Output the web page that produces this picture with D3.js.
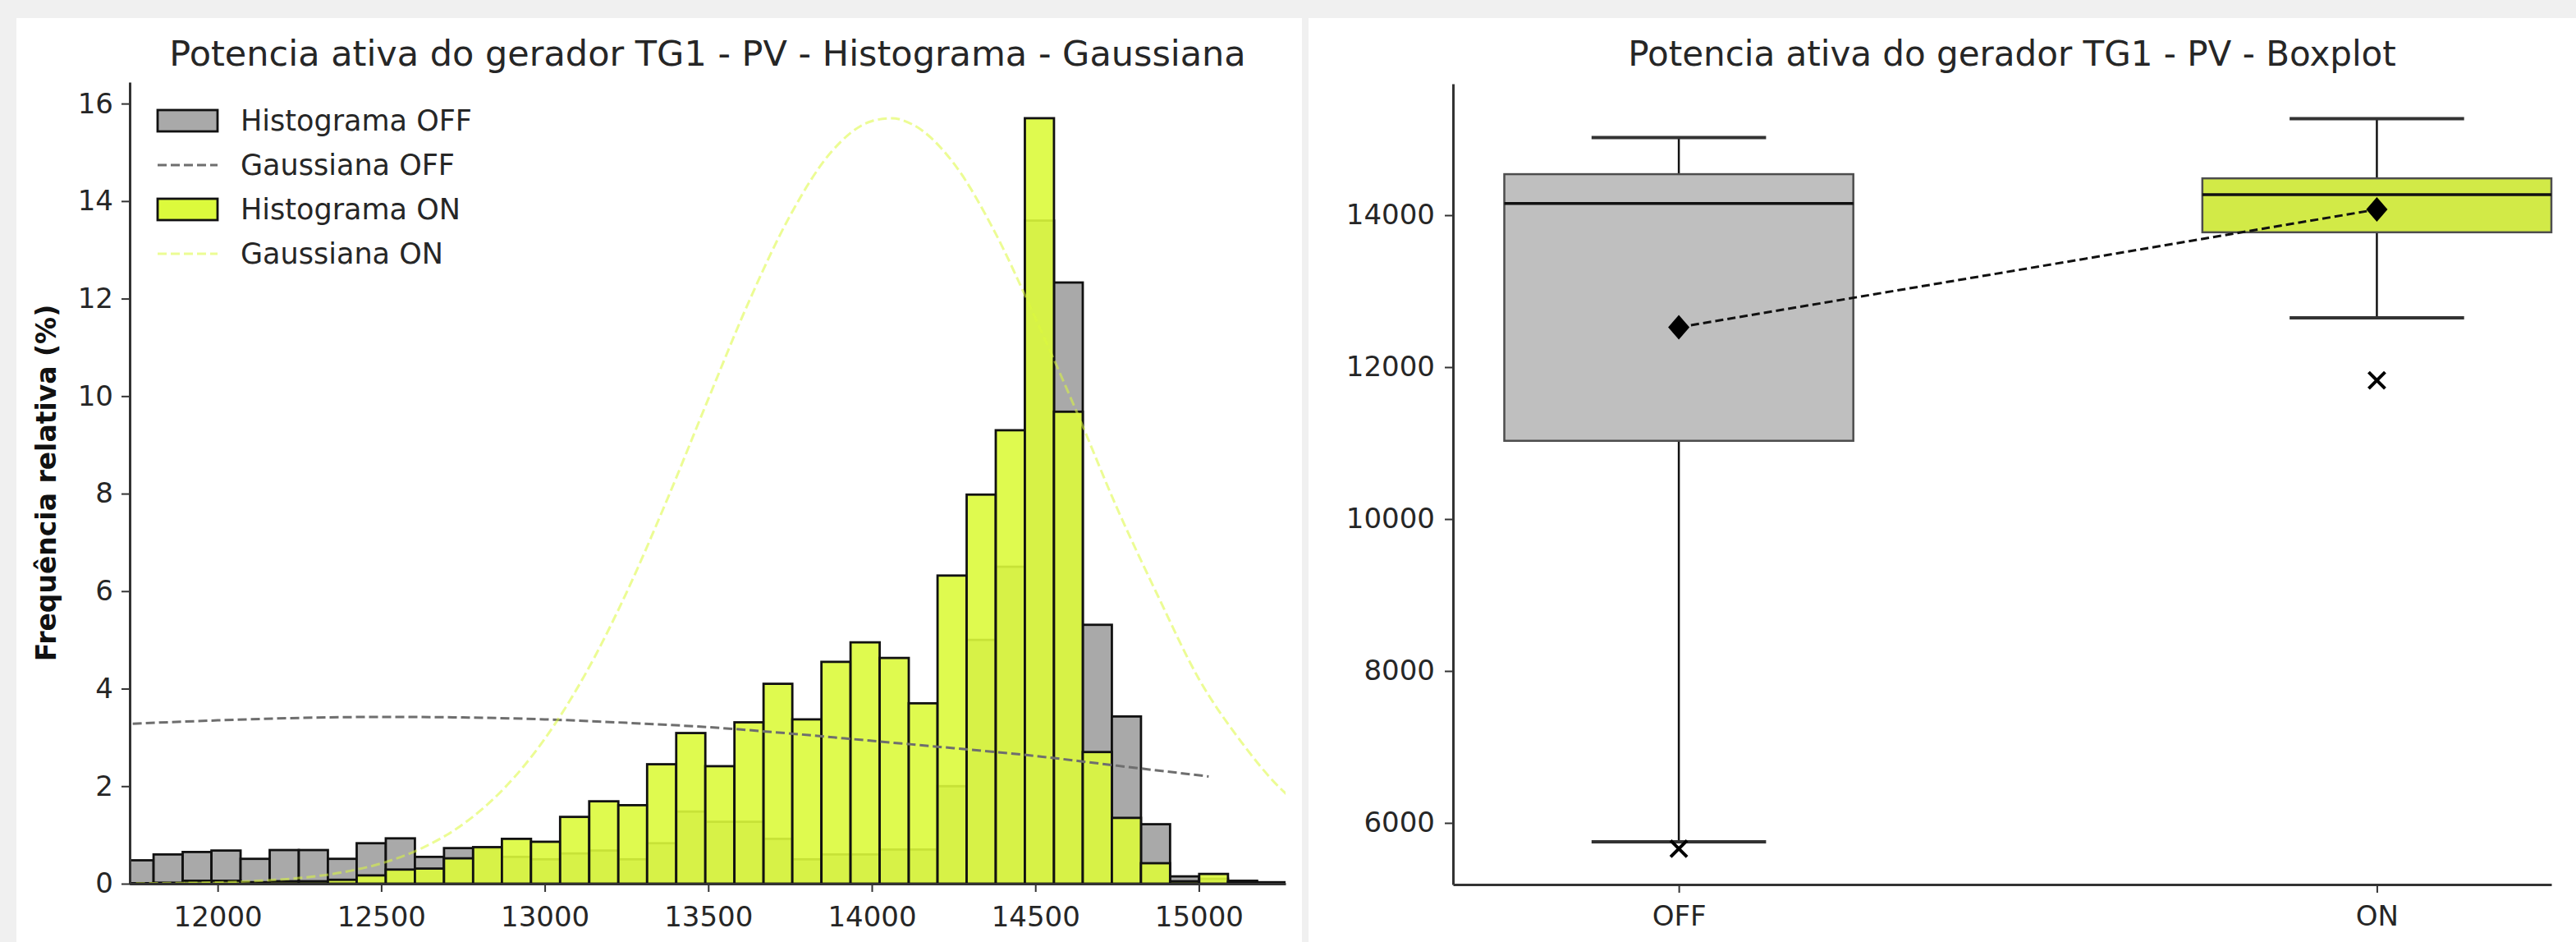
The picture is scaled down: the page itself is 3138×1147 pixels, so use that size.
<!DOCTYPE html>
<html>
<head>
<meta charset="utf-8">
<script src="https://cdn.jsdelivr.net/npm/d3@7"></script>
<style>
  body { margin: 0; background: #f0f0f0; }
  svg { display: block; font-family: "DejaVu Sans", sans-serif; }
</style>
</head>
<body>
<div id="chart"></div>
<script>
// bin edges of the histograms (kW)
const binEdges = [11715, 11804, 11893, 11981, 12070, 12159, 12248, 12337, 12425, 12514,
  12603, 12692, 12781, 12869, 12958, 13047, 13136, 13225, 13313, 13402,
  13491, 13580, 13669, 13757, 13846, 13935, 14024, 14113, 14201, 14290,
  14379, 14468, 14557, 14645, 14734, 14823, 14912, 15001, 15089, 15178, 15267];

// relative frequency (%) per bin
const histOff = [0.48, 0.60, 0.65, 0.68, 0.51, 0.69, 0.69, 0.51, 0.83, 0.93,
  0.55, 0.73, 0.72, 0.55, 0.50, 0.62, 0.68, 0.50, 0.83, 1.48,
  1.27, 1.27, 0.92, 0.50, 0.60, 0.60, 0.70, 0.70, 2.00, 5.00,
  6.50, 13.60, 12.33, 5.31, 3.43, 1.22, 0.15, 0.10, 0.06, 0.03];
const histOn = [0.01, 0.02, 0.06, 0.06, 0.03, 0.05, 0.05, 0.08, 0.17, 0.29,
  0.31, 0.52, 0.75, 0.92, 0.86, 1.37, 1.69, 1.61, 2.45, 3.09,
  2.41, 3.31, 4.10, 3.37, 4.55, 4.95, 4.63, 3.70, 6.32, 7.98,
  9.30, 15.70, 9.68, 2.70, 1.35, 0.42, 0.05, 0.20, 0.04, 0.02];

// gaussian curves
const gaussOffX = [11700, 12000, 12250, 12500, 12750, 13000, 13250, 13500, 13750, 14000, 14250, 14500, 14750, 15030];
const gaussOffY = [3.27, 3.35, 3.40, 3.42, 3.41, 3.37, 3.30, 3.21, 3.08, 2.93, 2.78, 2.62, 2.42, 2.20];
const gaussOnX = [11750, 11875, 12000, 12125, 12250, 12375, 12500, 12625, 12750, 12875, 13000, 13125, 13250, 13375,
  13500, 13625, 13750, 13875, 14000, 14060, 14125, 14250, 14375, 14500, 14625, 14750, 14875, 15000, 15125, 15250, 15300];
const gaussOnY = [0.005, 0.012, 0.027, 0.058, 0.117, 0.226, 0.416, 0.73, 1.22, 1.95, 2.97, 4.31, 5.97, 7.89,
  9.94, 11.95, 13.70, 15.0, 15.64, 15.70, 15.57, 14.78, 13.38, 11.6, 9.7, 7.7, 5.9, 4.2, 2.95, 1.95, 1.65];

const histXTicks = [12000, 12500, 13000, 13500, 14000, 14500, 15000];
const histYTicks = [0, 2, 4, 6, 8, 10, 12, 14, 16];

// boxplot statistics
const groups = ["OFF", "ON"];
const boxLowCap = [5750, 12650];
const boxQ1 = [11030, 13775];
const boxMedian = [14155, 14270];
const boxQ3 = [14540, 14485];
const boxHighCap = [15022, 15270];
const boxMean = [12525, 14075];
const boxMin = [5660, 11825];
const boxYTicks = [6000, 8000, 10000, 12000, 14000];

const legendItems = ["Histograma OFF", "Gaussiana OFF", "Histograma ON", "Gaussiana ON"];

const colOff = "#a9a9a9";
const colOn = "#dcfa3c";
const colBoxOff = "#bfbfbf";
const colBoxOn = "#d2ea47";
const txt = "#262626";

const W = 3138, H = 1147;
const svg = d3.select("#chart").append("svg").attr("width", W).attr("height", H);

// panels
svg.append("rect").attr("x", 20).attr("y", 22).attr("width", 1566).attr("height", H - 22).attr("fill", "#fff");
svg.append("rect").attr("x", 1594).attr("y", 22).attr("width", W - 1594).attr("height", H - 22).attr("fill", "#fff");

// ---------------- histogram ----------------
const xH = d3.scaleLinear().domain([11731, 15265]).range([158, 1566]);
const yH = d3.scaleLinear().domain([0, 16.44]).range([1076, 100]);

svg.append("clipPath").attr("id", "clipH")
  .append("rect").attr("x", 158).attr("y", 90).attr("width", 1408).attr("height", 990);

const gh = svg.append("g").attr("clip-path", "url(#clipH)");

const bins = d3.range(histOff.length);

gh.selectAll("rect.off").data(bins).enter().append("rect")
  .attr("x", i => xH(binEdges[i]))
  .attr("width", i => xH(binEdges[i + 1]) - xH(binEdges[i]))
  .attr("y", i => yH(histOff[i]))
  .attr("height", i => yH(0) - yH(histOff[i]))
  .attr("fill", colOff).attr("stroke", "#111").attr("stroke-width", 2.8);

gh.selectAll("rect.on").data(bins).enter().append("rect")
  .attr("x", i => xH(binEdges[i]))
  .attr("width", i => xH(binEdges[i + 1]) - xH(binEdges[i]))
  .attr("y", i => yH(histOn[i]))
  .attr("height", i => yH(0) - yH(histOn[i]))
  .attr("fill", colOn).attr("fill-opacity", 0.9)
  .attr("stroke", "#111").attr("stroke-width", 2.8);

const lineH = d3.line().x(d => xH(d[0])).y(d => yH(d[1])).curve(d3.curveMonotoneX);

gh.append("path").datum(d3.zip(gaussOffX, gaussOffY))
  .attr("d", lineH).attr("fill", "none")
  .attr("stroke", "#6e6e6e").attr("stroke-width", 3).attr("stroke-dasharray", "11,5");

gh.append("path").datum(d3.zip(gaussOnX, gaussOnY))
  .attr("d", lineH).attr("fill", "none")
  .attr("stroke", colOn).attr("stroke-opacity", 0.55)
  .attr("stroke-width", 3).attr("stroke-dasharray", "11,5");

// axes
const axH = svg.append("g").attr("transform", "translate(0,1076)")
  .call(d3.axisBottom(xH).tickValues(histXTicks).tickFormat(d3.format("d")).tickSize(10).tickSizeOuter(0).tickPadding(18));
const ayH = svg.append("g").attr("transform", "translate(158,0)")
  .call(d3.axisLeft(yH).tickValues(histYTicks).tickSize(10).tickSizeOuter(0).tickPadding(10));

[axH, ayH].forEach(a => {
  a.select(".domain").attr("stroke", "#333").attr("stroke-width", 3);
  a.selectAll(".tick line").attr("stroke", "#333").attr("stroke-width", 2);
  a.selectAll(".tick text").attr("fill", txt).style("font-size", "34px").style("font-family", "DejaVu Sans");
});

svg.append("text")
  .attr("transform", "translate(56,588) rotate(-90)")
  .attr("text-anchor", "middle").attr("dominant-baseline", "central")
  .style("font-size", "33px").style("font-weight", "bold").attr("fill", "#111")
  .text("Frequência relativa (%)");

svg.append("text").attr("x", 862).attr("y", 80).attr("text-anchor", "middle")
  .style("font-size", "43px").attr("fill", txt)
  .text("Potencia ativa do gerador TG1 - PV - Histograma - Gaussiana");

// legend
const lg = svg.append("g");
legendItems.forEach((name, i) => {
  const cy = 147 + i * 54;
  if (i % 2 === 0) {
    lg.append("rect").attr("x", 192).attr("y", cy - 13).attr("width", 73).attr("height", 26)
      .attr("fill", i === 0 ? colOff : colOn).attr("stroke", "#111").attr("stroke-width", 2.8);
  } else {
    lg.append("line").attr("x1", 192).attr("x2", 265).attr("y1", cy).attr("y2", cy)
      .attr("stroke", i === 1 ? "#6e6e6e" : colOn).attr("stroke-opacity", i === 1 ? 1 : 0.55)
      .attr("stroke-width", 3).attr("stroke-dasharray", "11,5");
  }
  lg.append("text").attr("x", 293).attr("y", cy).attr("dominant-baseline", "central")
    .style("font-size", "35px").attr("fill", txt).text(name);
});

// ---------------- boxplot ----------------
const xB = d3.scaleLinear().domain([-0.3235, 1.25]).range([1770, 3108]);
const yB = d3.scaleLinear().domain([5189, 15730]).range([1077, 102]);
const boxW = 0.5, capW = 0.25;

const gb = svg.append("g");
groups.forEach((g, i) => {
  const cx = xB(i);
  const half = (xB(boxW / 2) - xB(0));
  const capHalf = (xB(capW / 2) - xB(0));
  // whiskers
  gb.append("line").attr("x1", cx).attr("x2", cx).attr("y1", yB(boxHighCap[i])).attr("y2", yB(boxQ3[i]))
    .attr("stroke", "#111").attr("stroke-width", 2.5);
  gb.append("line").attr("x1", cx).attr("x2", cx).attr("y1", yB(boxQ1[i])).attr("y2", yB(boxLowCap[i]))
    .attr("stroke", "#111").attr("stroke-width", 2.5);
  // caps
  [boxHighCap[i], boxLowCap[i]].forEach(v => {
    gb.append("line").attr("x1", cx - capHalf).attr("x2", cx + capHalf).attr("y1", yB(v)).attr("y2", yB(v))
      .attr("stroke", "#333").attr("stroke-width", 4);
  });
  // box
  gb.append("rect").attr("x", cx - half).attr("width", 2 * half)
    .attr("y", yB(boxQ3[i])).attr("height", yB(boxQ1[i]) - yB(boxQ3[i]))
    .attr("fill", i === 0 ? colBoxOff : colBoxOn).attr("stroke", "#4d4d4d").attr("stroke-width", 2.5);
  // median
  gb.append("line").attr("x1", cx - half).attr("x2", cx + half).attr("y1", yB(boxMedian[i])).attr("y2", yB(boxMedian[i]))
    .attr("stroke", "#111").attr("stroke-width", 3.5);
});

// mean line + diamonds
gb.append("path").datum(groups.map((g, i) => [i, boxMean[i]]))
  .attr("d", d3.line().x(d => xB(d[0])).y(d => yB(d[1])))
  .attr("fill", "none").attr("stroke", "#111").attr("stroke-width", 3).attr("stroke-dasharray", "10,5");

gb.selectAll("path.mean").data(groups).enter().append("path")
  .attr("transform", (g, i) => `translate(${xB(i)},${yB(boxMean[i])})`)
  .attr("d", "M0,-15L13,0L0,15L-13,0Z").attr("fill", "#000");

// min markers
gb.selectAll("path.min").data(groups).enter().append("path")
  .attr("transform", (g, i) => `translate(${xB(i)},${yB(boxMin[i])})`)
  .attr("d", "M-10,-10L10,10M-10,10L10,-10").attr("stroke", "#000").attr("stroke-width", 4);

const axB = svg.append("g").attr("transform", "translate(0,1077)")
  .call(d3.axisBottom(xB).tickValues([0, 1]).tickFormat(i => groups[i]).tickSize(10).tickSizeOuter(0).tickPadding(16));
const ayB = svg.append("g").attr("transform", "translate(1770,0)")
  .call(d3.axisLeft(yB).tickValues(boxYTicks).tickFormat(d3.format("d")).tickSize(10).tickSizeOuter(0).tickPadding(12));

[axB, ayB].forEach(a => {
  a.select(".domain").attr("stroke", "#333").attr("stroke-width", 3);
  a.selectAll(".tick line").attr("stroke", "#333").attr("stroke-width", 2);
  a.selectAll(".tick text").attr("fill", txt).style("font-size", "34px").style("font-family", "DejaVu Sans");
});

svg.append("text").attr("x", 2451).attr("y", 80).attr("text-anchor", "middle")
  .style("font-size", "42px").attr("fill", txt)
  .text("Potencia ativa do gerador TG1 - PV - Boxplot");
</script>
</body>
</html>
